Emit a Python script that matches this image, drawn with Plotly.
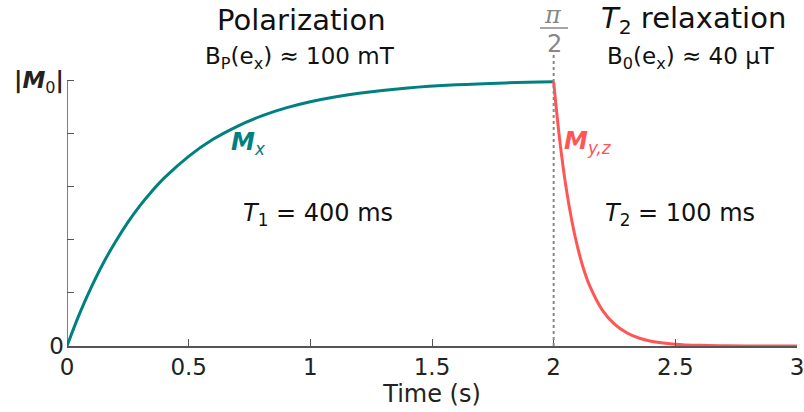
import plotly.graph_objects as go

# Values
t_pol = [0, 0.05, 0.1, 0.15, 0.2, 0.25, 0.3, 0.35, 0.4, 0.5, 0.6, 0.7, 0.8, 0.9, 1.0, 1.1, 1.2, 1.4, 1.6, 1.8, 2.0]
m_x = [0, 0.118, 0.221, 0.313, 0.393, 0.465, 0.528, 0.583, 0.632, 0.713, 0.777, 0.826, 0.865, 0.895,
       0.918, 0.936, 0.950, 0.970, 0.982, 0.989, 0.993]
t_rel = [2.0, 2.025, 2.05, 2.075, 2.1, 2.125, 2.15, 2.2, 2.25, 2.3, 2.35, 2.4, 2.5, 2.6, 2.7, 2.85, 3.0]
m_yz = [0.993, 0.773, 0.602, 0.469, 0.365, 0.284, 0.222, 0.135, 0.082, 0.050, 0.030, 0.018, 0.007,
        0.0025, 0.001, 0.0002, 0.0]
x_ticks = [0, 0.5, 1, 1.5, 2, 2.5, 3]
x_ticktext = ["0", "0.5", "1", "1.5", "2", "2.5", "3"]
y_ticks = [0, 0.2, 0.4, 0.6, 0.8, 1.0]
y_ticktext = ["0", "", "", "", "", "<b>|<i>M</i></b><sub>0</sub><b>|</b>"]

TEAL = "#008080"
RED = "#FF5555"
GRAY = "#888888"
AXC = "#555555"
FONT = "DejaVu Sans"

fig = go.Figure()
fig.add_trace(go.Scatter(x=t_pol, y=m_x, mode="lines", line=dict(color=TEAL, width=3, shape="spline"), showlegend=False))
fig.add_trace(go.Scatter(x=t_rel, y=m_yz, mode="lines", line=dict(color=RED, width=3, shape="spline"), showlegend=False))

fig.update_layout(
    width=804, height=412,
    margin=dict(l=67, r=7, t=0, b=66),
    paper_bgcolor="white", plot_bgcolor="white",
    font=dict(family=FONT, size=24, color="#222222"),
    xaxis=dict(range=[0, 3], tickvals=x_ticks, ticktext=x_ticktext, ticks="inside", ticklen=7,
               tickcolor=AXC, showline=True, linecolor=AXC, linewidth=1.5, automargin=False,
               ticklabeloverflow="allow",
               showgrid=False, zeroline=False,
               title=dict(text="Time (s)", standoff=0, font=dict(size=24)),
               tickfont=dict(size=23)),
    yaxis=dict(range=[0, 346 / 266.0], tickvals=y_ticks, ticktext=y_ticktext, ticks="inside", ticklen=7,
               tickcolor=AXC, showline=False, automargin=False, ticklabelstandoff=2,
               ticklabeloverflow="allow",
               showgrid=False, zeroline=False, tickfont=dict(size=23)),
)
# left axis line only up to M0
fig.add_shape(type="line", xref="x", yref="y", x0=0, x1=0, y0=0, y1=1.0, line=dict(color=AXC, width=1.5))
# dotted pi/2 line
fig.add_shape(type="line", xref="x", yref="y", x0=2, x1=2, y0=0, y1=(346 - 55) / 266.0,
              line=dict(color=GRAY, width=2, dash="dot"))

def px2x(px):
    return (px - 67) / 243.33

def py2y(py):
    return (346 - py) / 266.0

def ann(text, px, py, size=24, color="#111111", family=FONT, yanchor="middle"):
    fig.add_annotation(text=text, x=px2x(px), y=py2y(py), xref="x", yref="y", showarrow=False,
                       font=dict(family=family, size=size, color=color), xanchor="center", yanchor=yanchor,
                       borderpad=0)

ann("Polarization", 301, 20, size=29)
ann("B<sub>P</sub>(e<sub>x</sub>) ≈ 100 mT", 300, 58, size=23)
ann("<i>T</i><sub>2</sub> relaxation", 693, 20, size=29)
ann("B<sub>0</sub>(e<sub>x</sub>) ≈ 40 μT", 691, 58, size=23)
ann("<i>π</i>", 553, 30, size=24, color=GRAY, family="DejaVu Serif", yanchor="bottom")
ann("2", 554, 44, size=24, color=GRAY)
fig.add_shape(type="line", xref="x", yref="y", x0=px2x(540), x1=px2x(568), y0=py2y(28), y1=py2y(28),
              line=dict(color=GRAY, width=1.5))
ann("<b><i>M</i></b><sub><i>x</i></sub>", 248, 143, size=24, color=TEAL)
ann("<b><i>M</i></b><sub><i>y,z</i></sub>", 588, 142, size=24, color=RED)
ann("<i>T</i><sub>1</sub> = 400 ms", 318, 214, size=24)
ann("<i>T</i><sub>2</sub> = 100 ms", 680, 214, size=24)

fig.write_html("out.html")
